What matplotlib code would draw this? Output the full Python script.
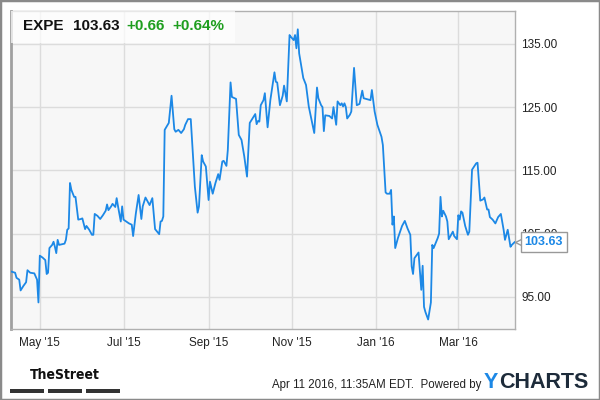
import numpy as np
import pandas as pd
import matplotlib
matplotlib.use('Agg')
import matplotlib.pyplot as plt
import matplotlib.dates as mdates
from matplotlib.patches import Rectangle
from matplotlib.transforms import offset_copy

plt.rcParams['font.family'] = ['Liberation Sans', 'DejaVu Sans']

# EXPE daily close (days since 2015-04-10)
start = pd.Timestamp('2015-04-10')
days = [0, 3, 4, 6, 7, 9, 11, 12, 14, 17, 19, 20, 21, 23, 25, 26, 27, 28, 30, 31,
        32, 33, 34, 35, 37, 39, 40, 41, 42, 43, 44, 46, 47, 49, 51, 52, 54, 55, 57, 59,
        60, 61, 63, 65, 67, 69, 70, 71, 72, 73, 74, 76, 77, 78, 80, 81, 82, 84, 86, 88,
        89, 91, 93, 95, 96, 98, 99, 101, 103, 105, 108, 109, 110, 111, 112, 115, 117, 119, 120, 122,
        124, 126, 127, 129, 131, 133, 134, 136, 137, 139, 140, 142, 144, 145, 147, 149, 151, 152, 154, 155,
        157, 158, 160, 161, 164, 166, 168, 170, 172, 174, 176, 178, 179, 180, 181, 182, 184, 185, 187, 189,
        191, 192, 193, 194, 196, 198, 199, 201, 203, 204, 206, 207, 208, 209, 210, 213, 215, 217, 219, 221,
        223, 224, 226, 227, 228, 229, 232, 234, 235, 237, 238, 240, 241, 242, 243, 244, 245, 247, 248, 250,
        252, 254, 256, 257, 262, 263, 265, 267, 270, 271, 273, 274, 276, 277, 278, 279, 280, 282, 285, 287,
        289, 291, 292, 293, 294, 296, 297, 299, 300, 301, 302, 304, 306, 307, 308, 311, 312, 313, 314, 315,
        317, 318, 319, 322, 323, 325, 326, 327, 328, 329, 331, 333, 334, 336, 339, 340, 342, 344, 345, 347,
        348, 349, 351, 353, 355, 357, 359, 360, 362, 364, 365, 367]
prices = [99.0, 98.8, 98.0, 97.7, 96.0, 96.7, 97.3, 99.2, 98.8, 98.7, 97.7, 94.1, 101.5, 101.2, 100.8, 98.6, 98.8, 102.7, 103.2, 103.7,
          102.9, 101.9, 104.0, 103.2, 103.3, 103.4, 104.0, 105.6, 105.8, 113.0, 111.9, 110.8, 110.8, 107.2, 107.3, 107.4, 105.7, 106.2, 105.6, 104.8,
          104.8, 108.1, 107.8, 107.3, 107.9, 108.6, 109.6, 108.7, 109.0, 109.3, 109.7, 109.2, 110.6, 109.3, 106.9, 109.3, 107.2, 106.9, 106.6, 106.4,
          104.6, 108.2, 111.1, 107.3, 109.3, 110.7, 110.3, 109.5, 110.6, 105.7, 104.9, 106.9, 107.0, 107.7, 121.4, 122.5, 126.8, 121.5, 121.1, 121.4,
          120.9, 121.5, 122.2, 123.1, 123.1, 116.1, 112.4, 108.3, 109.3, 117.4, 116.4, 115.6, 110.3, 113.2, 111.3, 113.0, 114.4, 113.5, 116.4, 116.5,
          115.7, 118.2, 128.9, 126.6, 126.3, 120.6, 119.8, 117.2, 114.0, 122.5, 123.2, 123.9, 122.3, 122.8, 122.7, 125.3, 126.1, 127.2, 121.8, 126.1,
          129.0, 130.5, 129.0, 128.9, 125.3, 126.8, 128.4, 125.9, 136.4, 136.1, 135.6, 136.4, 134.3, 137.3, 133.5, 129.6, 128.5, 125.1, 123.0, 120.9,
          128.1, 126.4, 125.3, 125.0, 121.2, 123.7, 123.6, 123.2, 125.0, 122.2, 125.9, 125.3, 125.6, 125.1, 125.6, 125.0, 123.2, 123.8, 124.3, 131.2,
          125.3, 125.5, 127.6, 126.4, 126.1, 127.7, 124.3, 122.2, 120.3, 119.0, 111.5, 111.3, 111.3, 111.9, 106.4, 107.7, 102.7, 104.3, 106.2, 107.0,
          105.8, 104.8, 99.8, 98.6, 101.1, 101.7, 102.0, 96.1, 99.9, 93.4, 92.6, 91.4, 94.1, 103.2, 102.7, 104.3, 105.0, 110.8, 107.7, 108.6,
          107.7, 106.9, 104.1, 105.3, 104.6, 104.1, 107.9, 107.2, 108.5, 108.3, 106.2, 104.8, 105.3, 115.1, 116.1, 116.2, 110.2, 110.4, 110.7, 108.8,
          108.8, 107.6, 107.2, 106.6, 107.6, 108.1, 105.6, 104.0, 105.6, 102.9, 103.2, 103.63]
yticks = [95, 105, 115, 125, 135]
xtick_dates = ['2015-05-01', '2015-07-01', '2015-09-01', '2015-11-01', '2016-01-01', '2016-03-01']

dates = start + pd.to_timedelta(days, unit='D')

fig = plt.figure(figsize=(6, 4), dpi=100)
fig.patch.set_facecolor('white')
ax = fig.add_axes([11/600, 71/400, 504/600, 318/400])
ax.set_facecolor('#f7f7f7')

ax.plot(dates, prices, color='#1c88e6', lw=1.3, zorder=3)

ax.set_xlim(start, start + pd.Timedelta(days=367.3))
ax.set_ylim(89.9, 140.2)

ax.set_yticks(yticks)
ax.yaxis.tick_right()
ax.yaxis.set_major_formatter(matplotlib.ticker.FormatStrFormatter('%.2f'))
ax.set_xticks(pd.to_datetime(xtick_dates))
ax.xaxis.set_major_formatter(mdates.DateFormatter("%b '%y"))
ax.tick_params(axis='both', length=0, labelsize=8.5, labelcolor='#222222')
ax.tick_params(axis='y', pad=4.5)
ax.tick_params(axis='x', pad=6)
ax.grid(True, color='#dcdcdc', lw=1)
ax.set_axisbelow(True)
for s in ['top', 'right', 'bottom']:
    ax.spines[s].set_color('#b0b0b0')
    ax.spines[s].set_linewidth(1)
ax.spines['left'].set_color('#a0a0a0')
ax.spines['left'].set_linewidth(2)

# header strip
ax.add_patch(Rectangle((0, 0.899), 0.444, 0.101, transform=ax.transAxes,
                       facecolor='white', alpha=0.7, edgecolor='none', zorder=4))
fig.text(22.7/600, 1-26.5/400, 'EXPE', fontsize=11, fontweight='bold', color='#111111', va='center')
fig.text(72.7/600, 1-26.5/400, '%.2f' % prices[-1], fontsize=11, fontweight='bold', color='#111111', va='center')
fig.text(126/600, 1-26.5/400, '+0.66', fontsize=11, fontweight='bold', color='#1f9e1f', va='center')
fig.text(172.7/600, 1-26.5/400, '+0.64%', fontsize=11, fontweight='bold', color='#1f9e1f', va='center')

# last value tag
tr = offset_copy(ax.transData, fig=fig, x=4, y=0, units='dots')
ax.plot([dates[-1]], [prices[-1]], marker='<', ms=6, mfc='white', mec='#999999', mew=1,
        transform=tr, clip_on=False, zorder=5)
ax.annotate('%.2f' % prices[-1], (dates[-1], prices[-1]), xytext=(10, 0), textcoords='offset pixels',
            va='center', ha='left', fontsize=9, fontweight='bold', color='#1c88e6', zorder=6,
            bbox=dict(boxstyle='square,pad=0.32', fc='white', ec='#999999', lw=1),
            annotation_clip=False)

# footer
fig.text(65/600, 1-375/400, 'TheStreet', fontsize=10, fontweight='bold', color='#111111',
         ha='center', va='center', family='DejaVu Sans', fontstretch='condensed')
for x0 in [10, 48, 86]:
    fig.patches.append(Rectangle((x0/600, 1-393/400), 34/600, 4/400, transform=fig.transFigure,
                                 facecolor='#333333', edgecolor='none'))
fig.text(481/600, 1-385/400, 'Apr 11 2016, 11:35AM EDT.  Powered by', fontsize=8.3,
         color='#222222', ha='right', va='center')
fig.text(484/600, 1-383/400, 'Y', fontsize=15.5, fontweight='bold', color='#1c88e6', va='center')
fig.text(499/600, 1-383/400, 'CHARTS', fontsize=15.5, fontweight='bold', color='#1d2b3a', va='center')

fig.patches.append(Rectangle((0, 0), 1, 1, transform=fig.transFigure, fill=False,
                             edgecolor='#8a8a8a', lw=2.5))

fig.savefig('out.png', dpi=100)
